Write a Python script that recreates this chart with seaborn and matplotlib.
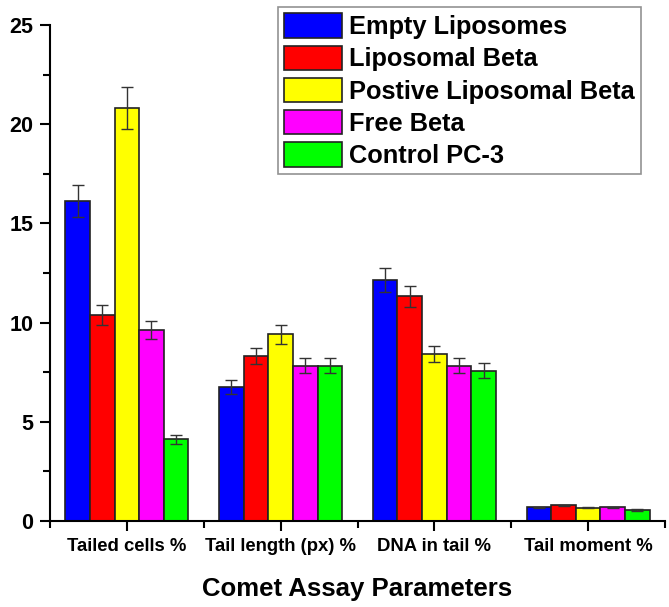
import numpy as np
import pandas as pd
import matplotlib
matplotlib.use('Agg')
import matplotlib.pyplot as plt
import seaborn as sns
from matplotlib.ticker import MultipleLocator, FixedLocator

# data
params = ['Tailed cells %', 'Tail length (px) %', 'DNA in tail %', 'Tail moment %']
groups = ['Empty Liposomes', 'Liposomal Beta', 'Postive Liposomal Beta', 'Free Beta', 'Control PC-3']
colors = ['#0000FF', '#FF0000', '#FFFF00', '#FF00FF', '#00FF00']

empty_lipo = [16.13, 6.75, 12.15, 0.69]
lipo_beta = [10.38, 8.32, 11.32, 0.79]
pos_lipo_beta = [20.82, 9.41, 8.42, 0.68]
free_beta = [9.63, 7.83, 7.83, 0.69]
control = [4.12, 7.83, 7.58, 0.55]

empty_lipo_err = [0.80, 0.34, 0.59, 0.03]
lipo_beta_err = [0.50, 0.40, 0.54, 0.03]
pos_lipo_beta_err = [1.04, 0.49, 0.42, 0.03]
free_beta_err = [0.47, 0.37, 0.37, 0.03]
control_err = [0.22, 0.37, 0.38, 0.03]

vals = [empty_lipo, lipo_beta, pos_lipo_beta, free_beta, control]
errs = [empty_lipo_err, lipo_beta_err, pos_lipo_beta_err, free_beta_err, control_err]

rows = []
for g, v, e in zip(groups, vals, errs):
    for p, vi, ei in zip(params, v, e):
        rows.append({'param': p, 'group': g, 'value': vi, 'err': ei})
df = pd.DataFrame(rows)

sns.set_style('ticks')
plt.rcParams['font.family'] = ['Liberation Sans', 'DejaVu Sans']
plt.rcParams['font.weight'] = 'bold'
plt.rcParams['text.color'] = 'black'
plt.rcParams['axes.labelcolor'] = 'black'

fig = plt.figure(figsize=(6.69, 6.07), dpi=100)
ax = fig.add_axes([50/669, 86/607, 615/669, 496/607])

sns.barplot(data=df, x='param', y='value', hue='group', order=params, hue_order=groups,
            palette=colors, errorbar=None, width=0.8, edgecolor='#222222', linewidth=1.2,
            saturation=1, legend=False, ax=ax)

# error bars at the bar centres seaborn produced
for cont, g in zip(ax.containers, groups):
    sub = df[df.group == g].set_index('param').loc[params]
    xs = [b.get_x() + b.get_width() / 2 for b in cont]
    hs = [b.get_height() for b in cont]
    ax.errorbar(xs, hs, yerr=sub['err'].values, fmt='none', ecolor='#333333',
                elinewidth=1, capsize=4.5, capthick=1)

ax.set_xlim(-0.5, 3.5)
ax.set_ylim(0, 25)
ax.yaxis.set_major_locator(MultipleLocator(5))
ax.yaxis.set_minor_locator(MultipleLocator(2.5))
ax.xaxis.set_minor_locator(FixedLocator([-0.5, 0.5, 1.5, 2.5, 3.5]))
sns.despine(ax=ax)
for s in ['left', 'bottom']:
    ax.spines[s].set_linewidth(1.5)
    ax.spines[s].set_color('black')
ax.tick_params(axis='both', which='major', length=7, width=1.5, direction='out', colors='black')
ax.tick_params(axis='both', which='minor', length=5, width=1.5, direction='out', colors='black')
ax.tick_params(axis='y', labelsize=15.5, pad=5)
ax.tick_params(axis='x', labelsize=13.3, pad=5)
for lab in ax.get_xticklabels() + ax.get_yticklabels():
    lab.set_fontweight('bold')

ax.set_ylabel('')
ax.set_xlabel('Comet Assay Parameters', fontsize=18.5, fontweight='bold', labelpad=16, color='black')

handles = [plt.Rectangle((0, 0), 1, 1, facecolor=c, edgecolor='#222222', linewidth=1.2) for c in colors]
leg = fig.legend(handles, groups, loc='upper left', bbox_to_anchor=(278/669, 1 - 7/607),
                 prop={'size': 18.3, 'weight': 'bold'}, frameon=True, fancybox=False,
                 edgecolor='#777777', handlelength=2.25, handleheight=1.1, handletextpad=0.3,
                 labelspacing=0.25, borderpad=0.25, borderaxespad=0, labelcolor='black')
leg.get_frame().set_linewidth(1.2)

fig.savefig('out.png', dpi=100, facecolor='white')
